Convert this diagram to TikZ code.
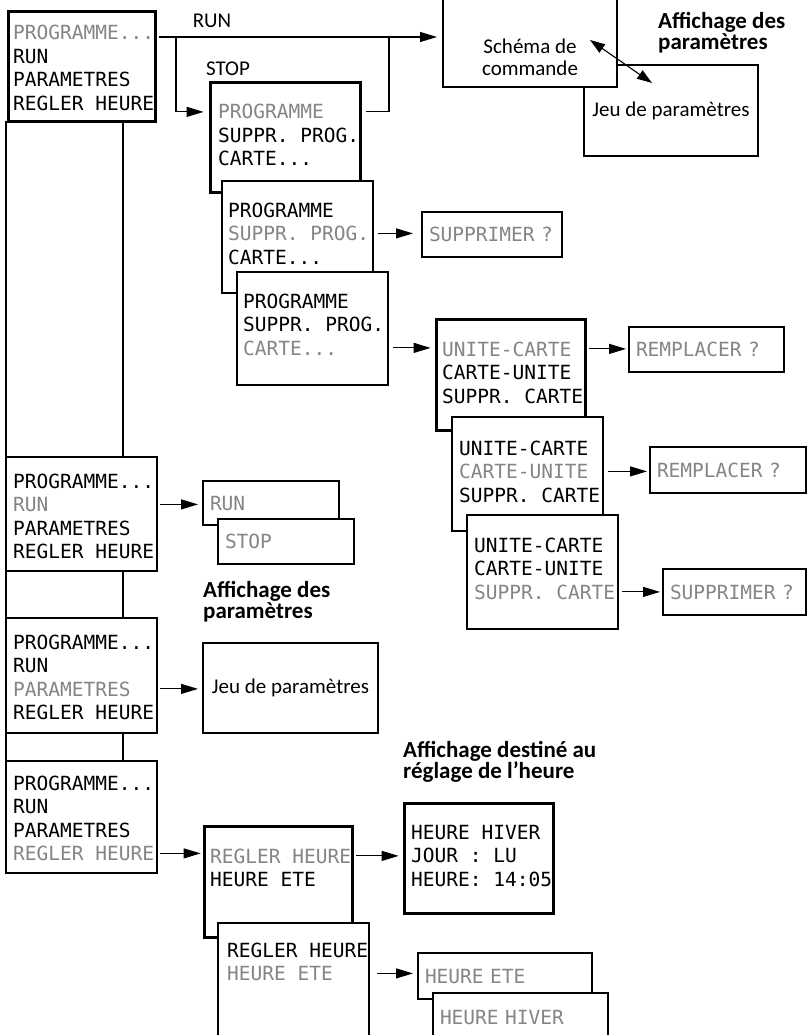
\documentclass[tikz,border=0pt]{standalone}
\usepackage{fontspec}
\usetikzlibrary{arrows.meta, positioning}
\newfontfamily\lcdfamily{DejaVu Sans Mono}
\newfontfamily\tagfamily{Carlito}
\newcommand{\lcdfont}{\lcdfamily\fontsize{19.5}{23.5}\selectfont}
\newcommand{\tagfont}{\tagfamily\fontsize{21}{22}\selectfont}
\newcommand{\headfont}{\tagfamily\bfseries\fontsize{23}{21.5}\selectfont}
\definecolor{lcdgrey}{gray}{0.52}
\tikzset{
    panel/.style={rectangle, draw=black, fill=white, line width=1.1pt, anchor=north west, inner sep=0pt, outer sep=0pt},
    thickpanel/.style={panel, line width=3.2pt},
    lcd/.style={font=\lcdfont, anchor=base west, inner sep=0pt, text height=14.2pt, text depth=0pt},
    dim/.style={lcd, text=lcdgrey},
    onebox/.style={panel, font=\lcdfont, text=lcdgrey, align=left, inner xsep=7pt, text height=14.2pt, text depth=0pt, minimum height=45pt, minimum width=#1, text width=#1-14pt},
    tag/.style={font=\tagfont, inner sep=0pt},
    heading/.style={font=\headfont, align=left, anchor=north west, inner sep=0pt},
    arrow/.style={line width=1.1pt, -{Triangle[length=17pt, width=10pt]}, shorten <=4pt, shorten >=4pt},
    link/.style={line width=1.1pt}
}
\frenchspacing

\begin{document}
\begin{tikzpicture}[x=1pt, y=-1pt]
\useasboundingbox (0,0) rectangle (811,1035);

% Main menu, left column
\node (menuA) [thickpanel, minimum width=146.8pt, minimum height=109.8pt] at (8.6,11.6) {};
\node (a1) [dim] at (13,40) {PROGRAMME...};
\node (a2) [lcd] at (13,63.5) {RUN};
\node (a3) [lcd] at (13,87) {PARAMETRES};
\node (a4) [lcd] at (13,110.5) {REGLER HEURE};

\node (menuH) [panel, minimum width=151pt, minimum height=114pt] at (6,457) {};
\node (h1) [lcd] at (13,488) {PROGRAMME...};
\node (h2) [dim] at (13,511.5) {RUN};
\node (h3) [lcd] at (13,535) {PARAMETRES};
\node (h4) [lcd] at (13,558.5) {REGLER HEURE};

\node (menuI) [panel, minimum width=151pt, minimum height=115pt] at (6,618) {};
\node (i1) [lcd] at (13,649) {PROGRAMME...};
\node (i2) [lcd] at (13,672.5) {RUN};
\node (i3) [dim] at (13,696) {PARAMETRES};
\node (i4) [lcd] at (13,719.5) {REGLER HEURE};

\node (menuJ) [panel, minimum width=151pt, minimum height=112pt] at (6,761) {};
\node (j1) [lcd] at (13,790) {PROGRAMME...};
\node (j2) [lcd] at (13,813.5) {RUN};
\node (j3) [lcd] at (13,837) {PARAMETRES};
\node (j4) [dim] at (13,860.5) {REGLER HEURE};

% stack lines between the menu cards
\coordinate (stack) at (123,0);
\draw [link] (menuH.north west |- menuA.south) -- (menuH.north west);
\draw [link] (menuH.south west) -- (menuI.north west);
\draw [link] (menuI.south west) -- (menuJ.north west);
\draw [link] (stack |- menuA.south) -- (stack |- menuH.north);
\draw [link] (stack |- menuH.south) -- (stack |- menuI.north);
\draw [link] (stack |- menuI.south) -- (stack |- menuJ.north);

% RUN / STOP
\node (jeuTop) [panel, font=\tagfont, minimum width=174pt, minimum height=91pt, anchor=north west] at (584,65) {Jeu de paramètres};
\node (schema) [panel, minimum width=174pt, minimum height=94pt] at (443,-7) {};
\node (schemaTxt) [tag, align=center] at (530,57) {Schéma de\\commande};
\node (headTop) [heading] at (658,12) {Affichage des\\paramètres};
\draw [link, {Triangle[length=15pt, width=10pt]}-{Triangle[length=15pt, width=10pt]}] ([xshift=-27pt]schema.east) -- ([xshift=68pt, yshift=-18pt]jeuTop.north west);

\coordinate (fork) at (176,37);
\coordinate (rejoin) at (389,37);
\node (runTag) [tag] at (212,21) {RUN};
\node (stopTag) [tag] at (228,69) {STOP};

\node (menuB) [thickpanel, minimum width=149.8pt, minimum height=109.8pt] at (210.6,82.6) {};
\node (b1) [dim] at (218,119) {PROGRAMME};
\node (b2) [lcd] at (218,142.5) {SUPPR. PROG.};
\node (b3) [lcd] at (218,166) {CARTE...};

\node (menuC) [panel, minimum width=151pt, minimum height=112pt] at (222,181) {};
\node (c1) [lcd] at (228,217) {PROGRAMME};
\node (c2) [dim] at (228,240.5) {SUPPR. PROG.};
\node (c3) [lcd] at (228,264) {CARTE...};
\node (supA) [onebox=140pt] at (422,212) {SUPPRIMER ?};

\node (menuD) [panel, minimum width=151pt, minimum height=113pt] at (237,272) {};
\node (d1) [lcd] at (243,308) {PROGRAMME};
\node (d2) [lcd] at (243,331.5) {SUPPR. PROG.};
\node (d3) [dim] at (243,355) {CARTE...};

% card submenu
\node (menuE) [thickpanel, minimum width=148.8pt, minimum height=110.8pt] at (436.6,319.6) {};
\node (e1) [dim] at (442,356) {UNITE-CARTE};
\node (e2) [lcd] at (442,379.5) {CARTE-UNITE};
\node (e3) [lcd] at (442,403) {SUPPR. CARTE};
\node (remA) [onebox=155pt] at (629,327) {REMPLACER ?};

\node (menuF) [panel, minimum width=151pt, minimum height=114pt] at (452,417) {};
\node (f1) [lcd] at (459,455) {UNITE-CARTE};
\node (f2) [dim] at (459,478.5) {CARTE-UNITE};
\node (f3) [lcd] at (459,502) {SUPPR. CARTE};
\node (remB) [onebox=156pt, minimum height=46pt] at (650,447) {REMPLACER ?};

\node (menuG) [panel, minimum width=151pt, minimum height=114pt] at (467,515) {};
\node (g1) [lcd] at (474,552) {UNITE-CARTE};
\node (g2) [lcd] at (474,575.5) {CARTE-UNITE};
\node (g3) [dim] at (474,599) {SUPPR. CARTE};
\node (supB) [onebox=143pt, minimum height=46pt] at (663,569) {SUPPRIMER ?};

% RUN/STOP, parameters
\node (runBox) [onebox=136pt, minimum height=44pt] at (203,481) {RUN};
\node (stopBox) [onebox=136pt] at (218,519) {STOP};
\node (headMid) [heading] at (203,581) {Affichage des\\paramètres};
\node (jeuMid) [panel, font=\tagfont, minimum width=175pt, minimum height=90pt] at (203,643) {Jeu de paramètres};

% time setting
\node (headBot) [heading] at (403,741) {Affichage destiné au\\réglage de l’heure};
\node (menuK) [thickpanel, minimum width=147.8pt, minimum height=110.8pt] at (204.6,826.6) {};
\node (k1) [dim] at (210,863) {REGLER HEURE};
\node (k2) [lcd] at (210,886.5) {HEURE ETE};

\node (clock) [thickpanel, minimum width=148.8pt, minimum height=109.8pt] at (404.6,803.6) {};
\node (t1) [lcd] at (411,839) {HEURE HIVER};
\node (t2) [lcd] at (411,862.5) {JOUR : LU};
\node (t3) [lcd] at (411,886) {HEURE: 14:05};

\node (menuL) [panel, minimum width=151pt, minimum height=125pt] at (218,923) {};
\node (l1) [lcd] at (227,957) {REGLER HEURE};
\node (l2) [dim] at (227,980.5) {HEURE ETE};

\node (eteBox) [onebox=174pt, minimum height=46pt] at (418,953) {HEURE ETE};
\node (hiverBox) [onebox=175pt, minimum height=48pt] at (433,993) {HEURE HIVER};

% Arrows
\draw [arrow, shorten >=6pt] (menuA.east |- fork) -- (schema.west |- fork);
\draw [arrow, shorten <=0pt, shorten >=7pt] (fork) |- (menuB.west |- b1);
\draw [link, shorten <=6pt] (menuB.east |- b1) -| (rejoin);
\draw [arrow, shorten <=5pt, shorten >=9pt] (menuC.east |- c2) -- (supA.west |- c2);
\draw [arrow, shorten <=5pt, shorten >=6pt] (menuD.east |- d3) -- (menuE.west |- d3);
\draw [arrow, shorten >=3pt] (menuE.east |- e1) -- (remA.west |- e1);
\draw [arrow, shorten <=5pt, shorten >=3pt] (menuF.east |- f2) -- (remB.west |- f2);
\draw [arrow, shorten >=3pt] (menuG.east |- g3) -- (supB.west |- g3);
\draw [arrow, shorten <=3pt, shorten >=5pt] (menuH.east |- h2) -- (runBox.west |- h2);
\draw [arrow, shorten <=3pt, shorten >=5pt] (menuI.east |- i3) -- (jeuMid.west |- i3);
\draw [arrow, shorten <=3pt] (menuJ.east |- j4) -- (menuK.west |- j4);
\draw [arrow, shorten >=6pt] (menuK.east |- k1) -- (clock.west |- k1);
\draw [arrow, shorten <=8pt, shorten >=5pt] (menuL.east |- l2) -- (eteBox.west |- l2);

\end{tikzpicture}
\end{document}
